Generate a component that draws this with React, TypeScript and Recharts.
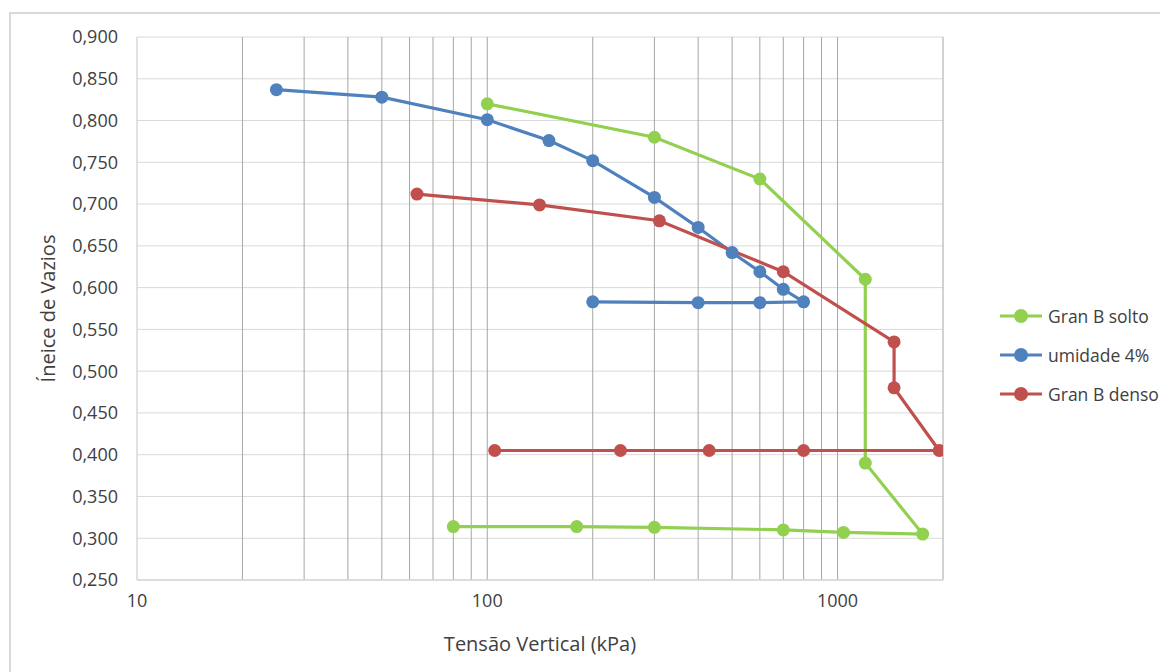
import React from 'react';
import { LineChart, Line, XAxis, YAxis, CartesianGrid, ReferenceLine } from 'recharts';

const soltoX = [100, 300, 600, 1200, 1200, 1750, 1040, 700, 300, 180, 80];
const soltoY = [0.820, 0.780, 0.730, 0.610, 0.390, 0.305, 0.307, 0.310, 0.313, 0.314, 0.314];

const umidadeX = [25, 50, 100, 150, 200, 300, 400, 500, 600, 700, 800, 600, 400, 200];
const umidadeY = [0.837, 0.828, 0.801, 0.776, 0.752, 0.708, 0.672, 0.642, 0.619, 0.598, 0.583, 0.582, 0.582, 0.583];

const densoX = [63, 141, 310, 700, 1450, 1450, 1950, 800, 430, 240, 105];
const densoY = [0.712, 0.699, 0.680, 0.619, 0.535, 0.480, 0.405, 0.405, 0.405, 0.405, 0.405];

const xTicks = [10, 100, 1000];
const xGridValues = [20, 30, 40, 50, 60, 70, 80, 90, 100, 200, 300, 400, 500, 600, 700, 800, 900, 1000, 2000];
const yTicks = [0.25, 0.3, 0.35, 0.4, 0.45, 0.5, 0.55, 0.6, 0.65, 0.7, 0.75, 0.8, 0.85, 0.9];

const seriesNames = ['Gran B solto', 'umidade 4%', 'Gran B denso'];
const seriesColors = ['#92D050', '#4F81BD', '#C0504D'];

const zip = (xs: number[], ys: number[]) => xs.map((x, i) => ({ x, y: ys[i] }));
const seriesData = [zip(soltoX, soltoY), zip(umidadeX, umidadeY), zip(densoX, densoY)];

const FONT = '"Open Sans", "Noto Sans", sans-serif';
const TEXT = '#404040';

export default function App() {
  return (
    <div style={{ position: 'relative', width: 1160, height: 664, overflow: 'hidden', fontFamily: FONT }}>
      <div
        style={{
          position: 'absolute',
          left: 1,
          top: 4,
          width: 1200,
          height: 720,
          border: '2px solid #d9d9d9',
          background: '#fff',
        }}
      />
      <div style={{ position: 'absolute', left: 0, top: 0 }}>
        <LineChart width={1160} height={664} margin={{ top: 29, right: 225, bottom: 32, left: 0 }}>
          <CartesianGrid vertical={false} stroke="#d9d9d9" strokeWidth={1} />
          {xGridValues.map((v) => (
            <ReferenceLine key={v} x={v} stroke="#a6a6a6" strokeWidth={1} />
          ))}
          <XAxis
            dataKey="x"
            type="number"
            scale="log"
            domain={[10, 2000]}
            ticks={xTicks}
            allowDataOverflow
            axisLine={{ stroke: '#d9d9d9', strokeWidth: 1.5 }}
            tickLine={false}
            tickMargin={8}
            height={60}
            tick={{ fill: TEXT, fontSize: 18, fontFamily: FONT }}
            label={{ value: 'Tensão Vertical (kPa)', position: 'center', dy: 34, fill: TEXT, fontSize: 20, fontFamily: FONT }}
          />
          <YAxis
            type="number"
            domain={[0.25, 0.9]}
            ticks={yTicks}
            width={129}
            axisLine={{ stroke: '#d9d9d9', strokeWidth: 1.5 }}
            tickLine={false}
            tickMargin={13}
            tickFormatter={(v: number) => v.toFixed(3).replace('.', ',')}
            tick={{ fill: TEXT, fontSize: 18, fontFamily: FONT }}
            label={{ value: 'Íneice de Vazios', angle: -90, position: 'center', dx: -25, fill: TEXT, fontSize: 20, fontFamily: FONT }}
          />
          {seriesData.map((d, i) => (
            <Line
              key={seriesNames[i]}
              name={seriesNames[i]}
              data={d}
              dataKey="y"
              type="linear"
              stroke={seriesColors[i]}
              strokeWidth={3.2}
              dot={{ r: 6.5, fill: seriesColors[i], stroke: seriesColors[i], strokeWidth: 0 }}
              activeDot={false}
              isAnimationActive={false}
            />
          ))}
        </LineChart>
      </div>
      <div style={{ position: 'absolute', left: 991, top: 288, width: 200 }}>
        {seriesNames.map((n, i) => (
          <div key={n} style={{ display: 'flex', alignItems: 'center', height: 39, color: TEXT, fontSize: 17.5, whiteSpace: 'nowrap' }}>
            <svg width={44} height={16} style={{ marginRight: 5, flexShrink: 0 }}>
              <line x1={1} y1={8} x2={43} y2={8} stroke={seriesColors[i]} strokeWidth={3} />
              <circle cx={22} cy={8} r={7} fill={seriesColors[i]} />
            </svg>
            <span>{n}</span>
          </div>
        ))}
      </div>
    </div>
  );
}
